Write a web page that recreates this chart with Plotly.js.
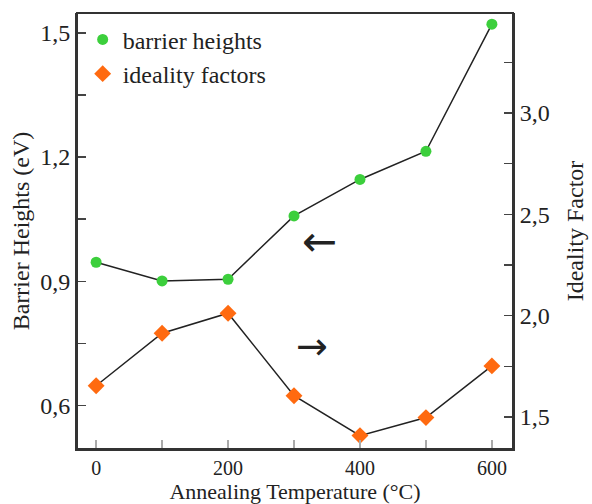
<!DOCTYPE html>
<html>
<head>
<meta charset="utf-8">
<script src="https://cdn.plot.ly/plotly-3.0.1.min.js"></script>
<style>html,body{margin:0;padding:0;background:#fff;}#chart{width:592px;height:504px;}</style>
</head>
<body>
<div id="chart"></div>
<script>
const temperatures = [0, 100, 200, 300, 400, 500, 600];
const barrierHeights = [0.946, 0.901, 0.905, 1.058, 1.146, 1.214, 1.521];
const idealityFactors = [1.654, 1.913, 2.012, 1.605, 1.408, 1.497, 1.752];
const seriesNames = ["barrier heights", "ideality factors"];
const xTickVals = [0, 100, 200, 300, 400, 500, 600];
const xTickText = ["0", "", "200", "", "400", "", "600"];
const yTickVals = [0.6, 0.75, 0.9, 1.05, 1.2, 1.35, 1.5];
const yTickText = ["0,6", "", "0,9", "", "1,2", "", "1,5"];
const y2TickVals = [1.5, 1.75, 2.0, 2.25, 2.5, 2.75, 3.0, 3.25];
const y2TickText = ["1,5", "", "2,0", "", "2,5", "", "3,0", ""];
const xTitle = "Annealing Temperature (°C)";
const yTitle = "Barrier Heights (eV)";
const y2Title = "Ideality Factor";

const FONT = "'Liberation Serif', 'Times New Roman', serif";
const LINE = {color: "#222", width: 1.5};
const traces = [
  {x: temperatures, y: barrierHeights, type: "scatter", mode: "lines", line: LINE, showlegend: false, hoverinfo: "skip"},
  {x: temperatures, y: idealityFactors, type: "scatter", mode: "lines", yaxis: "y2", line: LINE, showlegend: false, hoverinfo: "skip"},
  {x: temperatures, y: barrierHeights, name: seriesNames[0], type: "scatter", mode: "markers",
   marker: {symbol: "circle", size: 11, color: "#3ccf3c"}},
  {x: temperatures, y: idealityFactors, name: seriesNames[1], type: "scatter", mode: "markers", yaxis: "y2",
   marker: {symbol: "diamond", size: 13, color: "#ff6a10"}}
];
const TICKFONT = {family: FONT, size: 24, color: "#222"};
const TITLEFONT = {family: FONT, size: 24, color: "#222"};
function axis(extra) {
  return Object.assign({showline: true, linecolor: "#333", linewidth: 2, ticks: "inside", ticklen: 9,
    tickwidth: 1.5, tickcolor: "#444", showgrid: false, zeroline: false, tickfont: TICKFONT,
    tickmode: "array"}, extra);
}
const layout = {
  width: 592, height: 504,
  margin: {l: 77, r: 79, t: 13, b: 55},
  paper_bgcolor: "#fff", plot_bgcolor: "#fff",
  font: {family: FONT, color: "#222"},
  showlegend: true,
  legend: {x: 0.013, y: 0.99, xanchor: "left", yanchor: "top", bgcolor: "rgba(0,0,0,0)",
    traceorder: "normal", font: {family: FONT, size: 24, color: "#222"}},
  xaxis: axis({range: [-29, 632], tickvals: xTickVals, ticktext: xTickText, tickcolor: "#aaa",
    tickfont: {family: FONT, size: 20, color: "#222"},
    title: {text: xTitle, font: {family: FONT, size: 22, color: "#222"}, standoff: 4}}),
  yaxis: axis({range: [0.495, 1.548], tickvals: yTickVals, ticktext: yTickText,
    title: {text: yTitle, font: TITLEFONT, standoff: 4}}),
  yaxis2: axis({overlaying: "y", side: "right", range: [1.342, 3.493],
    tickvals: y2TickVals, ticktext: y2TickText,
    title: {text: y2Title, font: TITLEFONT, standoff: 17}}),
  shapes: [
    {type: "rect", xref: "paper", yref: "paper", x0: 0, x1: 1, y0: 0, y1: 1,
     line: {color: "#333", width: 2}, fillcolor: "rgba(0,0,0,0)", layer: "above"}
  ],
  annotations: [
    {xref: "x", yref: "y", x: 339, y: 0.995, text: "\u2190", showarrow: false,
     font: {family: "DejaVu Sans", size: 42, color: "#222"}},
    {xref: "x", yref: "y2", x: 327, y: 1.85, text: "\u2192", showarrow: false,
     font: {family: "DejaVu Sans", size: 38, color: "#222"}}
  ]
};
Plotly.newPlot("chart", traces, layout, {displayModeBar: false, staticPlot: true});
</script>
</body>
</html>
